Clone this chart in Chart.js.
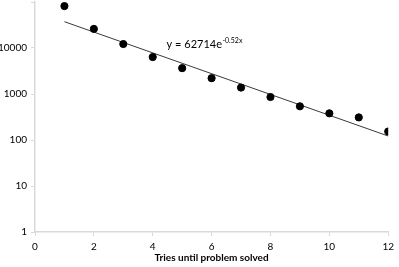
<!DOCTYPE html>
<html>
<head>
<meta charset="utf-8">
<title>Tries until problem solved</title>
<script src="https://cdn.jsdelivr.net/npm/chart.js"></script>
<style>
  html, body { margin: 0; padding: 0; background: #fff; }
  #wrap { width: 399px; height: 267px; overflow: hidden; }
  #inner { width: 399px; height: 275px; margin-top: -8px; }
</style>
</head>
<body>
<div id="wrap"><div id="inner"><canvas id="scatterChart"></canvas></div></div>
<script>
    // observed counts per number of tries
    var tries = [1, 2, 3, 4, 5, 6, 7, 8, 9, 10, 11, 12];
    var counts = [81500, 26000, 12200, 6360, 3650, 2210, 1380, 860, 540, 380, 310, 153];

    // exponential trendline end points
    var trendX = [1, 12];
    var trendY = [37300, 122];
    var trendLabel = 'y = 62714e';
    var trendExp = '-0.52x';
    var labelAt = { x: 4.47, y: 10000 };

    var yTicks = [1, 10, 100, 1000, 10000, 100000];
    var xTicks = [0, 2, 4, 6, 8, 10, 12];

    var font = 'Lato, "Open Sans", sans-serif';
    var axisGray = '#d9d9d9';

    var equationPlugin = {
        id: 'equation',
        afterDatasetsDraw: function(chart) {
            var ctx = chart.ctx;
            var px = chart.scales.x.getPixelForValue(labelAt.x);
            var py = chart.scales.y.getPixelForValue(labelAt.y);
            ctx.save();
            ctx.fillStyle = '#000';
            ctx.textBaseline = 'alphabetic';
            ctx.textAlign = 'left';
            ctx.font = '11px ' + font;
            ctx.fillText(trendLabel, px, py);
            var w = ctx.measureText(trendLabel).width;
            ctx.font = '7px ' + font;
            ctx.fillText(trendExp, px + w + 0.5, py - 5);
            ctx.restore();
        }
    };

    var ctx = document.getElementById('scatterChart').getContext('2d');
    var chart = new Chart(ctx, {
        type: 'scatter',
        data: {
            datasets: [{
                label: 'Count',
                data: tries.map(function(t, i) { return { x: t, y: counts[i] }; }),
                backgroundColor: '#000',
                borderColor: '#000',
                pointRadius: 3.6,
                pointHoverRadius: 3.6
            }, {
                type: 'line',
                label: 'Trend',
                data: trendX.map(function(t, i) { return { x: t, y: trendY[i] }; }),
                borderColor: '#3a3a3a',
                borderWidth: 1,
                pointRadius: 0,
                fill: false
            }]
        },
        options: {
            responsive: true,
            maintainAspectRatio: false,
            animation: false,
            layout: { padding: { top: 3, right: 10, left: 0, bottom: 0 } },
            plugins: {
                legend: { display: false },
                tooltip: { enabled: false }
            },
            scales: {
                x: {
                    type: 'linear',
                    min: 0,
                    max: 12,
                    afterBuildTicks: function(axis) {
                        axis.ticks = xTicks.map(function(v) { return { value: v }; });
                    },
                    afterFit: function(axis) { axis.height = 35; },
                    grid: {
                        drawOnChartArea: false,
                        drawTicks: true,
                        tickLength: 4,
                        color: axisGray
                    },
                    border: { display: true, color: axisGray, width: 1.5 },
                    ticks: {
                        color: '#000',
                        padding: 5,
                        maxRotation: 0,
                        font: { family: font, size: 10 }
                    },
                    title: {
                        display: true,
                        text: 'Tries until problem solved',
                        color: '#000',
                        padding: { top: 1, bottom: 3 },
                        font: { family: font, size: 10, weight: 'bold' }
                    }
                },
                y: {
                    type: 'logarithmic',
                    min: 1,
                    max: 100000,
                    afterBuildTicks: function(axis) {
                        axis.ticks = yTicks.map(function(v) { return { value: v }; });
                    },
                    afterFit: function(axis) { axis.width = 35; },
                    grid: {
                        drawOnChartArea: false,
                        drawTicks: true,
                        tickLength: 4,
                        color: axisGray
                    },
                    border: { display: true, color: axisGray, width: 1.5 },
                    ticks: {
                        color: '#000',
                        padding: 4,
                        font: { family: font, size: 10 },
                        callback: function(value) {
                            return value === 100000 ? '' : String(value);
                        }
                    }
                }
            }
        },
        plugins: [equationPlugin]
    });
</script>
</body>
</html>
